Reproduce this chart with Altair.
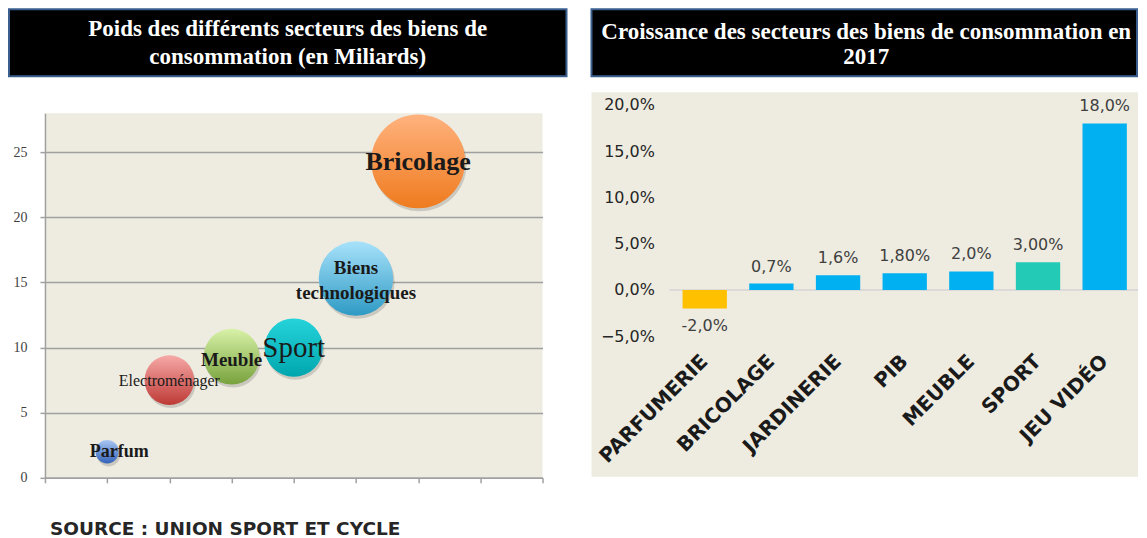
import altair as alt
import pandas as pd

# ---------------- data : bubble chart ----------------
secteurs = ["Parfum", "Electroménager", "Meuble", "Sport", "Biens technologiques", "Bricolage"]
etiquettes_bulles = ["Parfum", "Electroménager", "Meuble", "Sport", "Biens\ntechnologiques", "Bricolage"]
rang = [1, 2, 3, 4, 5, 6]
poids = [2.0, 7.5, 9.3, 10.0, 15.3, 24.3]
taille = [1.5, 6.8, 8.6, 9.4, 15.3, 24.3]
graduations_y = [0, 5, 10, 15, 20, 25]
graduations_x = [0, 1, 2, 3, 4, 5, 6, 7, 8]

# ---------------- data : bar chart ----------------
categories = ["PARFUMERIE", "BRICOLAGE", "JARDINERIE", "PIB", "MEUBLE", "SPORT", "JEU VIDÉO"]
croissance = [-2.0, 0.7, 1.6, 1.8, 2.0, 3.0, 18.0]
etiquettes_barres = ["-2,0%", "0,7%", "1,6%", "1,80%", "2,0%", "3,00%", "18,0%"]
graduations_pct = [-5, 0, 5, 10, 15, 20]

titre_gauche = ["Poids des différents secteurs des biens de", "consommation (en Miliards)"]
titre_droite = ["Croissance des secteurs des biens de consommation en", "2017"]
source = "SOURCE : UNION SPORT ET CYCLE"

bulles = pd.DataFrame({"secteur": secteurs, "etiquette": etiquettes_bulles,
                       "rang": rang, "poids": poids, "taille": taille})
barres = pd.DataFrame({"categorie": categories, "croissance": croissance,
                       "etiquette": etiquettes_barres})
un = pd.DataFrame({"k": [0]})

# ---------------- styles ----------------
BEIGE = "#EEECE1"
GRIS = "#A0A0A0"
SERIF = "Liberation Serif"
SANS = "DejaVu Sans"

degrades = {
    "Parfum": ("#A9C6F2", "#3463B8"),
    "Electroménager": ("#F6A9A7", "#BE3A36"),
    "Meuble": ("#D8F2A8", "#78A23C"),
    "Sport": ("#25D3DA", "#00A6AE"),
    "Biens technologiques": ("#A8E2FB", "#2E9AC4"),
    "Bricolage": ("#FFB27E", "#EF7B1E"),
}
styles_etiquettes = {
    "Parfum": dict(fontSize=18, fontWeight="bold", dx=12),
    "Electroménager": dict(fontSize=16, fontWeight="normal", dy=1),
    "Meuble": dict(fontSize=19, fontWeight="bold", dy=3),
    "Sport": dict(fontSize=29, fontWeight="normal"),
    "Biens technologiques": dict(fontSize=19, fontWeight="bold", dy=-11),
    "Bricolage": dict(fontSize=26, fontWeight="bold", dy=1),
}
ordre_dessin = ["Bricolage", "Biens technologiques", "Sport", "Meuble", "Electroménager", "Parfum"]
couleurs_barres = ["#FFC000", "#00B0F0", "#00B0F0", "#00B0F0", "#00B0F0", "#23CBB7", "#00B0F0"]

# ---------------- left panel : bubbles ----------------
W1, H1 = 498, 365
X = alt.X("rang:Q", scale=alt.Scale(domain=[0, 8], nice=False),
          axis=alt.Axis(values=graduations_x, labels=False, ticks=True, tickSize=5,
                        tickColor=GRIS, tickWidth=1.5, domainColor=GRIS, domainWidth=1.5,
                        grid=False, title=None))
Y = alt.Y("poids:Q", scale=alt.Scale(domain=[0, 28], nice=False),
          axis=alt.Axis(values=graduations_y, grid=True, gridColor="#A0A0A0", gridWidth=1.5,
                        domainColor=GRIS, domainWidth=1.5, tickColor=GRIS, tickWidth=1.5,
                        tickSize=5, labelFont=SERIF, labelFontSize=14, labelColor="#404040",
                        labelPadding=13, title=None))
S = alt.Size("taille:Q", scale=alt.Scale(domain=[0, 24.3], range=[0, 8825]), legend=None)

base = alt.Chart(bulles)
couches = []
couches.append(alt.Chart(un).mark_rect(fill="black", stroke="#3A5F8F", strokeWidth=2).encode(
    x=alt.value(-36), x2=alt.value(522), y=alt.value(-104), y2=alt.value(-37)))
couches.append(alt.Chart(un).mark_text(text=titre_gauche, font=SERIF, fontSize=23, fontWeight="bold",
                                       color="white", lineHeight=28, align="center",
                                       baseline="middle").encode(x=alt.value(243), y=alt.value(-84)))
couches.append(base.mark_circle(color="#000000", opacity=0.15, xOffset=1.5, yOffset=3).encode(
    x=X, y=Y, size=S))
for nom in ordre_dessin:
    haut, bas = degrades[nom]
    grad = alt.LinearGradient(gradient="linear", x1=0, y1=0, x2=0, y2=1,
                              stops=[alt.GradientStop(color=haut, offset=0),
                                     alt.GradientStop(color=bas, offset=1)])
    couches.append(base.transform_filter(alt.datum.secteur == nom)
                   .mark_circle(fill=grad, filled=True, opacity=1)
                   .encode(x=X, y=Y, size=S))
for nom in ordre_dessin:
    couches.append(base.transform_filter(alt.datum.secteur == nom)
                   .mark_text(font=SERIF, color="#1A1A1A", lineBreak="\n", lineHeight=25,
                              align="center", baseline="middle", **styles_etiquettes[nom])
                   .encode(x=X, y=Y, text="etiquette:N"))
couches.append(alt.Chart(un).mark_text(text=source, font=SANS, fontWeight="bold", fontSize=18.5,
                                       color="#262626", align="left", baseline="middle")
               .encode(x=alt.value(5), y=alt.value(416)))

gauche = alt.layer(*couches).properties(width=W1, height=H1,
                                        view=alt.ViewBackground(fill=BEIGE, strokeWidth=0))

# ---------------- right panel : bars ----------------
W2, H2 = 467, 223
XB = alt.X("categorie:N", sort=categories,
           scale=alt.Scale(paddingInner=0.335, paddingOuter=0.1675),
           axis=alt.Axis(labelAngle=315, labelAlign="right", labelBaseline="middle",
                         labelFont=SANS, labelFontWeight="bold", labelFontSize=20,
                         labelColor="#1A1A1A", labelPadding=22, domain=False, ticks=False,
                         tickSize=0, title=None, zindex=1, labelLimit=300))
YB = alt.Y("croissance:Q", scale=alt.Scale(domain=[-5, 20], range=[223.3, -8.2], nice=False),
           axis=alt.Axis(values=graduations_pct,
                         labelExpr="replace(format(datum.value, '.1f'), '.', ',') + '%'",
                         grid=False, domain=False, ticks=False, tickSize=0, labelPadding=17,
                         labelFont=SANS, labelFontSize=16, labelColor="#262626",
                         title=None, zindex=1))
CB = alt.Color("categorie:N", scale=alt.Scale(domain=categories, range=couleurs_barres), legend=None)

fond = alt.Chart(un).mark_rect(color=BEIGE).encode(
    x=alt.value(-80), x2=alt.value(W2), y=alt.value(-21), y2=alt.value(364))
boite = alt.Chart(un).mark_rect(fill="black", stroke="#3A5F8F", strokeWidth=2).encode(
    x=alt.value(-80), x2=alt.value(W2 - 1), y=alt.value(-104), y2=alt.value(-37))
titre2 = alt.Chart(un).mark_text(text=titre_droite, font=SERIF, fontSize=23, fontWeight="bold",
                                 color="white", lineHeight=25, align="center",
                                 baseline="middle").encode(x=alt.value(195), y=alt.value(-81))
zero = alt.Chart(un).mark_rule(color="#D4D4D4", strokeWidth=1.5).encode(
    y=alt.datum(0), x=alt.value(-2), x2=alt.value(W2))
bars = alt.Chart(barres).mark_bar().encode(x=XB, y=YB, color=CB)
lab_pos = alt.Chart(barres).transform_filter(alt.datum.croissance >= 0).mark_text(
    font=SANS, fontSize=16, color="#404040", baseline="middle", dy=-17).encode(
    x=XB, y=YB, text="etiquette:N")
lab_neg = alt.Chart(barres).transform_filter(alt.datum.croissance < 0).mark_text(
    font=SANS, fontSize=16, color="#404040", baseline="middle", dy=18).encode(
    x=XB, y=YB, text="etiquette:N")

droite = alt.layer(fond, boite, titre2, zero, bars, lab_pos, lab_neg).properties(width=W2, height=H2)

chart = alt.hconcat(gauche, droite, spacing=23).properties(
    padding={"left": 0, "top": 0, "right": 0, "bottom": 0}
).configure(background="white").configure_view(strokeWidth=0)

chart.save("out.html", embed_options={"renderer": "svg", "actions": False})
